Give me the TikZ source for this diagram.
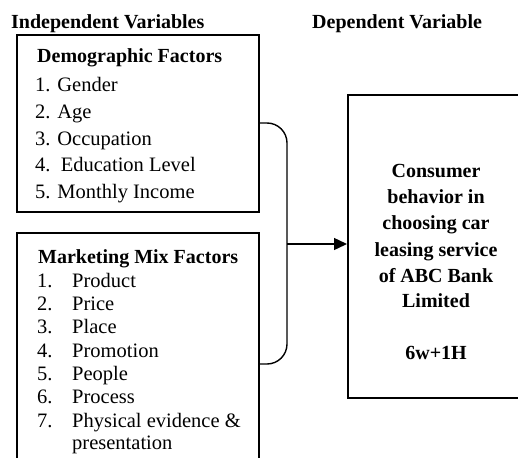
\documentclass[tikz,border=0pt]{standalone}
\usepackage{fontspec}
\setmainfont{Liberation Serif}
\usetikzlibrary{arrows.meta}
\begin{document}
\begin{tikzpicture}[x=1pt,y=-1pt,
  box/.style={draw,line width=2pt,inner sep=0pt},
  txt/.style={anchor=base west,inner sep=0pt,font=\fontsize{20.5}{24}\selectfont},
  btxt/.style={anchor=base west,inner sep=0pt,font=\fontsize{20}{24}\selectfont\bfseries},
  ctxt/.style={anchor=base,inner sep=0pt,font=\fontsize{20}{24}\selectfont\bfseries},
  link/.style={line width=1.4pt}]
\useasboundingbox (0,0) rectangle (518,457);
\clip (0,0) rectangle (518,457);
% boxes
\node[box,minimum width=242pt,minimum height=177pt] (demo) at (138,123.5) {};
\node[box,minimum width=242pt,minimum height=247pt] (mix) at (138,356.5) {};
\node[box,minimum width=176pt,minimum height=303pt] (dep) at (436,246.5) {};
% headings
\node[btxt] (h1) at (11,29) {Independent Variables};
\node[btxt] (h2) at (312,29) {Dependent Variable};
% demographic
\node[btxt] (dt) at (37,63) {Demographic Factors};
\node[txt] (d1) at (35,92) {1. Gender};
\node[txt] (d2) at (35,118.5) {2. Age};
\node[txt] (d3) at (35,145) {3. Occupation};
\node[txt] (d4) at (35,171.5) {4.\ \ Education Level};
\node[txt] (d5) at (35,198) {5. Monthly Income};
% marketing mix
\node[btxt] (mt) at (38,263) {Marketing Mix Factors};
\foreach \n/\y/\t in {1/287/Product,2/310/Price,3/333/Place,4/357/Promotion,5/380/People,6/403/Process,7/427/{Physical evidence \&}}{
  \node[txt] (mn\n) at (37,\y) {\n.};
  \node[txt] (mi\n) at (72,\y) {\t};
}
\node[txt] (mi8) at (72,449) {presentation};
% dependent text
\node[ctxt] (c1) at (436,177) {Consumer};
\node[ctxt] (c2) at (436,203) {behavior in};
\node[ctxt] (c3) at (436,229) {choosing car};
\node[ctxt] (c4) at (436,256) {leasing service};
\node[ctxt] (c5) at (436,282) {of ABC Bank};
\node[ctxt] (c6) at (436,307) {Limited};
\node[ctxt] (c7) at (436,359) {6w+1H};
% bracket and arrow
\coordinate (bt) at (demo.east |- 0,123);
\coordinate (bb) at (mix.east |- 0,364);
\coordinate (bj) at (287,244);
\draw[link,rounded corners=20pt] (bt) -- (287,123) -- (287,364) -- (bb);
\draw[link,-{Triangle[length=13pt,width=12pt]}] (bj) -- (bj -| dep.west);
\end{tikzpicture}
\end{document}
